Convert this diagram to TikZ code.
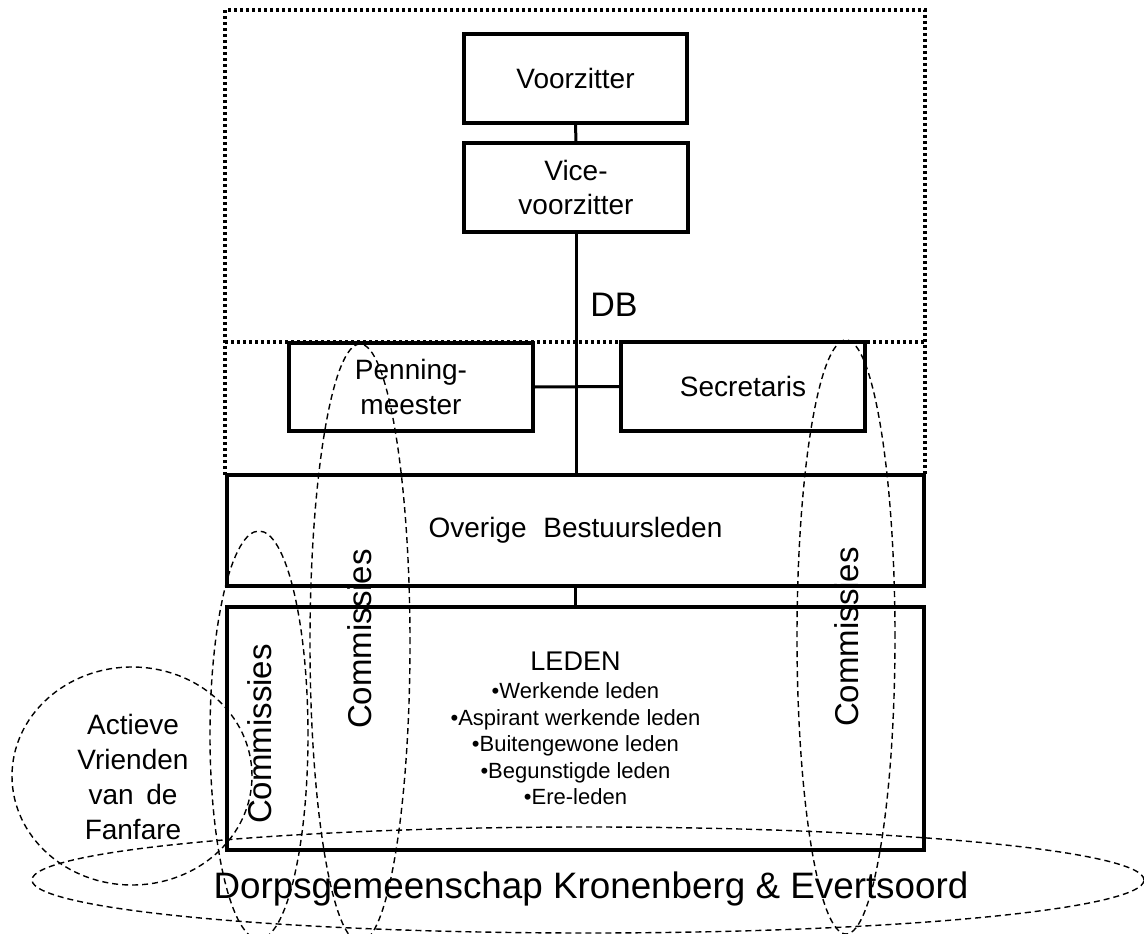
\documentclass[tikz,border=0pt]{standalone}
\usepackage{fontspec}
\setmainfont{Liberation Sans}
\begin{document}
\begin{tikzpicture}[x=1pt,y=-1pt]
\tikzset{
  orgbox/.style={draw, line width=3.3pt, inner sep=0pt, align=center,
    font=\fontsize{28}{34.5}\selectfont},
  conn/.style={line width=3pt},
  dbframe/.style={line width=3.4pt, dash pattern=on 3pt off 3pt},
  grp/.style={line width=1.4pt, dash pattern=on 6pt off 4pt},
  comtext/.style={rotate=90, inner sep=0pt, font=\fontsize{33}{40}\selectfont},
  plain/.style={inner sep=0pt, align=center}
}
\useasboundingbox (0,0) rectangle (1144,934);

% dotted DB frame
\coordinate (fTL) at (225,10);
\coordinate (fTR) at (925,10);
\coordinate (fBL) at (225,475);
\coordinate (fBR) at (925,475);
\coordinate (fML) at (225,342);
\coordinate (fMR) at (925,342);
\draw[dbframe] (fBL) -- (fTL) -- (fTR) -- (fBR);
\draw[dbframe] (fML) -- (fMR);

% boxes
\node[orgbox, minimum width=223pt, minimum height=89pt] (voorz) at (575.5,78.5) {Voorzitter};
\node[orgbox, minimum width=224pt, minimum height=89pt] (vice) at (576,187.5) {Vice-\\voorzitter};
\node[orgbox, minimum width=244pt, minimum height=88pt] (penn) at (411,387) {Penning-\\meester};
\node[orgbox, minimum width=244pt, minimum height=89pt] (secr) at (743,386.5) {Secretaris};
\node[orgbox, minimum width=697pt, minimum height=111pt] (overige) at (575.5,530.5) {Overige\hspace{0.6em}Bestuursleden};
\node[orgbox, minimum width=697pt, minimum height=243pt, font=\fontsize{22}{26.5}\selectfont] (leden) at (575.5,728.5)
  {{\fontsize{27}{27}\selectfont LEDEN}\\[1.5pt]
   •Werkende leden\\
   •Aspirant werkende leden\\
   •Buitengewone leden\\
   •Begunstigde leden\\
   •Ere-leden};

% connectors
\draw[conn] (voorz.south) -- (vice.north);
\draw[conn] (vice.south) -- (vice.south |- overige.north);
\draw[conn] (penn.east) -- (secr.west);
\draw[conn] (overige.south) -- (leden.north);

% DB label
\node[plain, font=\fontsize{34}{40}\selectfont] (db) at (614,305) {DB};

% Commissies groups
\draw[grp] (259,735) ellipse [x radius=49pt, y radius=204pt];
\draw[grp] (360,643) ellipse [x radius=50pt, y radius=299pt];
\draw[grp] (846,637) ellipse [x radius=49pt, y radius=297pt];
\node[comtext] (com1) at (260,734) {Commissies};
\node[comtext] (com2) at (360,639) {Commissies};
\node[comtext] (com3) at (846.5,637) {Commissies};

% Actieve Vrienden
\draw[grp] (132,776) ellipse [x radius=120pt, y radius=109pt];
\node[plain, font=\fontsize{28}{35}\selectfont] (avf) at (133,777)
  {Actieve\\Vrienden\\van\hspace{0.45em}de\\Fanfare};

% Dorpsgemeenschap
\draw[grp] (588,880) ellipse [x radius=556pt, y radius=53pt];
\node[plain, anchor=base, font=\fontsize{36.8}{42}\selectfont] (dorp) at (591,898)
  {Dorpsgemeenschap Kronenberg \& Evertsoord};
\end{tikzpicture}
\end{document}
